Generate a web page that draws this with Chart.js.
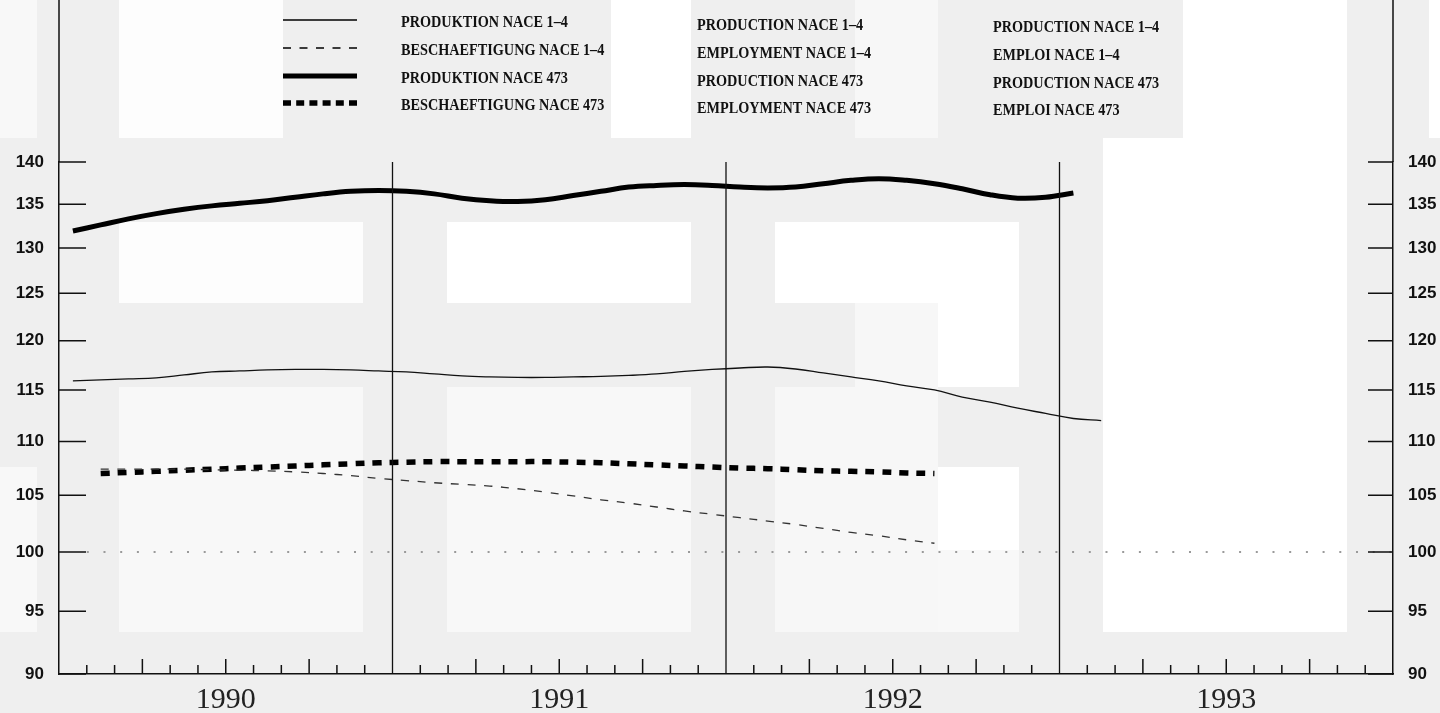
<!DOCTYPE html>
<html>
<head>
<meta charset="utf-8">
<title>Produktion / Beschaeftigung NACE 1-4, NACE 473</title>
<script src="https://cdn.jsdelivr.net/npm/chart.js@4.4.1/dist/chart.umd.min.js"></script>
<style>
    html, body { margin: 0; padding: 0; background: #efefef; overflow: hidden; }
    #wrap { position: relative; width: 1440px; height: 713px; }
</style>
</head>
<body>
<div id="wrap"><canvas id="LineChart" width="1440" height="713"></canvas></div>
<script>
// ---- data (monthly index values) ----
const years = ['1990', '1991', '1992', '1993'];
const yTicks = [90, 95, 100, 105, 110, 115, 120, 125, 130, 135, 140];

// Jan 1990 - Feb 1993
const prodNace14 = [115.9, 116.0, 116.1, 116.2, 116.5, 116.8, 116.9, 117.0, 117.05, 117.05, 117.0, 116.9,
    116.8, 116.6, 116.4, 116.3, 116.25, 116.25, 116.3, 116.35, 116.45, 116.6, 116.85, 117.05,
    117.2, 117.3, 117.1, 116.7, 116.3, 115.9, 115.4, 115.0, 114.3, 113.8, 113.2, 112.7,
    112.2, 112.0];
// Feb 1990 - Aug 1992
const emplNace14 = [107.4, 107.4, 107.4, 107.4, 107.35, 107.3, 107.25, 107.15, 107.0, 106.8, 106.55,
    106.35, 106.15, 106.0, 105.85, 105.6, 105.3, 104.95, 104.6, 104.3, 103.95, 103.6, 103.3,
    103.0, 102.7, 102.4, 102.05, 101.7, 101.4, 101.05, 100.75];
// Jan 1990 - Jan 1993
const prodNace473 = [131.9, 132.6, 133.3, 133.9, 134.4, 134.8, 135.1, 135.4, 135.8, 136.2, 136.5, 136.6,
    136.5, 136.2, 135.7, 135.4, 135.3, 135.5, 136.0, 136.5, 137.0, 137.2, 137.3, 137.2,
    137.0, 136.9, 137.0, 137.4, 137.8, 138.0, 137.8, 137.4, 136.8, 136.1, 135.7, 135.8,
    136.3];
// Feb 1990 - Aug 1992
const emplNace473 = [107.0, 107.1, 107.2, 107.3, 107.4, 107.5, 107.6, 107.7, 107.8, 107.9, 108.0,
    108.05, 108.1, 108.1, 108.1, 108.1, 108.1, 108.05, 108.0, 107.9, 107.8, 107.7, 107.6,
    107.5, 107.45, 107.35, 107.25, 107.2, 107.15, 107.05, 107.0];

const baseLevel = 100;
const baseRange = [1, 48]; // months covered by the 100 reference line

const legendDe = ['PRODUKTION NACE 1–4', 'BESCHAEFTIGUNG NACE 1–4', 'PRODUKTION NACE 473', 'BESCHAEFTIGUNG NACE 473'];
const legendEn = ['PRODUCTION NACE 1–4', 'EMPLOYMENT NACE 1–4', 'PRODUCTION NACE 473', 'EMPLOYMENT NACE 473'];
const legendFr = ['PRODUCTION NACE 1–4', 'EMPLOI NACE 1–4', 'PRODUCTION NACE 473', 'EMPLOI NACE 473'];

// scan background: grey paper with lighter blocks
const paperPatches = [
    [0, 0, 37, 138, '#f8f8f8'], [119, 0, 164, 138, '#fdfdfd'], [611, 0, 80, 138, '#ffffff'],
    [855, 0, 83, 138, '#f7f7f7'], [1183, 0, 164, 138, '#ffffff'], [1429, 0, 11, 138, '#ffffff'],
    [1103, 138, 244, 494, '#ffffff'],
    [119, 222, 244, 81, '#fdfdfd'], [447, 222, 244, 81, '#ffffff'], [775, 222, 244, 81, '#ffffff'],
    [855, 303, 83, 84, '#f7f7f7'], [938, 303, 81, 84, '#ffffff'],
    [119, 387, 244, 245, '#f8f8f8'], [447, 387, 244, 245, '#f8f8f8'], [775, 387, 163, 245, '#f7f7f7'],
    [938, 467, 81, 83, '#ffffff'], [938, 550, 81, 82, '#f8f8f8'], [0, 467, 37, 165, '#f8f8f8']
];

const toPoints = (values, firstMonth) => values.map((v, i) => ({ x: firstMonth + i + 0.5, y: v }));

const paper = {
    id: 'paper',
    beforeDraw(chart) {
        const c = chart.ctx;
        c.save();
        c.fillStyle = '#efefef';
        c.fillRect(0, 0, chart.width, chart.height);
        paperPatches.forEach(p => {
            c.fillStyle = p[4];
            c.fillRect(p[0], p[1], p[2], p[3]);
        });
        c.restore();
    }
};

// inward ticks, year separators, frame extension and the 3-language legend
const frame = {
    id: 'frame',
    afterDraw(chart) {
        const c = chart.ctx;
        const area = chart.chartArea;
        const x = chart.scales.x;
        const y = chart.scales.y;
        c.save();
        c.strokeStyle = '#111';
        c.lineWidth = 1.5;
        c.beginPath();
        // axes up to the top of the sheet
        c.moveTo(area.left, 0); c.lineTo(area.left, area.top);
        c.moveTo(area.right, 0); c.lineTo(area.right, area.top);
        yTicks.forEach(v => {
            const py = y.getPixelForValue(v);
            c.moveTo(area.left, py); c.lineTo(area.left + 27, py);
            c.moveTo(area.right - 25, py); c.lineTo(area.right, py);
        });
        for (let m = 1; m < 48; m++) {
            if (m % 12 === 0) continue;
            const px = x.getPixelForValue(m);
            c.moveTo(px, area.bottom);
            c.lineTo(px, area.bottom - (m % 3 === 0 ? 15 : 9));
        }
        c.stroke();

        c.lineWidth = 1.3;
        c.beginPath();
        for (let m = 12; m < 48; m += 12) {
            const px = x.getPixelForValue(m);
            c.moveTo(px, y.getPixelForValue(140));
            c.lineTo(px, area.bottom);
        }
        c.stroke();

        // legend
        const rows = [20, 48, 76, 103];
        const ds = chart.data.datasets;
        rows.forEach((ry, i) => {
            const d = ds[i];
            c.save();
            c.strokeStyle = '#000';
            c.lineWidth = d.borderWidth;
            c.setLineDash(d.legendDash || []);
            c.beginPath();
            c.moveTo(283, ry);
            c.lineTo(357, ry);
            c.stroke();
            c.restore();
        });
        c.fillStyle = '#111';
        c.font = 'bold 16px "Liberation Serif"';
        c.textBaseline = 'middle';
        [[legendDe, 401, 3], [legendEn, 697, 6], [legendFr, 993, 8]].forEach(([labels, lx, dy]) => {
            labels.forEach((t, i) => {
                c.save();
                c.translate(lx, rows[i] + dy);
                c.scale(0.89, 1);
                c.fillText(t, 0, 0);
                c.restore();
            });
        });
        c.restore();
    }
};

const logAxis = (position, width) => ({
    type: 'logarithmic',
    position: position,
    min: 90,
    max: 140,
    afterBuildTicks: (s) => { s.ticks = yTicks.map(v => ({ value: v })); },
    afterFit: (s) => { s.width = width; },
    grid: { drawOnChartArea: false, drawTicks: false },
    border: { display: true, color: '#111', width: 1.5 },
    ticks: {
        padding: 15,
        color: '#111',
        font: { family: 'Liberation Sans', size: 17, weight: 'bold' },
        callback: (v) => String(v)
    }
});

new Chart(document.getElementById('LineChart'), {
    type: 'line',
    data: {
        datasets: [
            {
                label: legendDe[0],
                data: toPoints(prodNace14, 0),
                borderColor: '#111',
                borderWidth: 1.3,
                tension: 0.4
            },
            {
                label: legendDe[1],
                data: toPoints(emplNace14, 1),
                borderColor: '#333',
                borderWidth: 1.3,
                borderDash: [8, 8.7],
                legendDash: [8, 8.5],
                tension: 0.4
            },
            {
                label: legendDe[2],
                data: toPoints(prodNace473, 0),
                borderColor: '#000',
                borderWidth: 5,
                tension: 0.4
            },
            {
                label: legendDe[3],
                data: toPoints(emplNace473, 1),
                borderColor: '#000',
                borderWidth: 5.5,
                borderDash: [9, 8],
                legendDash: [8, 5.2],
                tension: 0.4
            },
            {
                label: 'Index 100',
                data: baseRange.map(m => ({ x: m, y: baseLevel })),
                borderColor: '#9a9a9a',
                borderWidth: 2,
                borderDash: [2, 14.7]
            }
        ]
    },
    options: {
        responsive: false,
        animation: false,
        devicePixelRatio: 1,
        layout: { padding: { top: 162, left: 0, right: 0, bottom: 0 } },
        elements: { point: { radius: 0 } },
        plugins: {
            legend: { display: false },
            tooltip: { enabled: false }
        },
        scales: {
            x: {
                type: 'linear',
                min: 0,
                max: 48,
                afterBuildTicks: (s) => { s.ticks = years.map((yr, i) => ({ value: 12 * i + 6 })); },
                afterFit: (s) => { s.height = 39; },
                grid: { drawOnChartArea: false, drawTicks: false },
                border: { display: true, color: '#111', width: 1.5 },
                ticks: {
                    padding: 8,
                    maxRotation: 0,
                    color: '#222',
                    font: { family: 'Liberation Serif', size: 30 },
                    callback: (v, i) => years[i]
                }
            },
            y: logAxis('left', 59),
            y2: logAxis('right', 47)
        }
    },
    plugins: [paper, frame]
});
</script>
</body>
</html>
